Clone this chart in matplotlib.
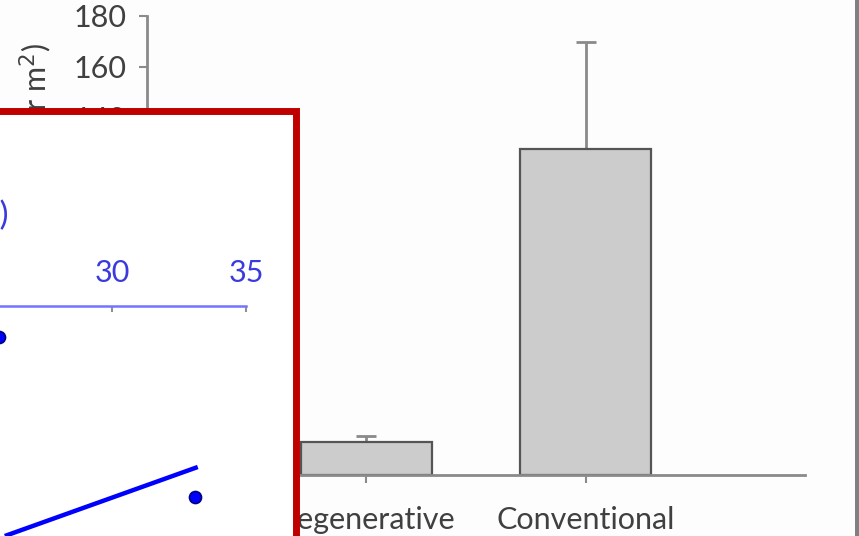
import matplotlib
matplotlib.use("Agg")
import matplotlib.pyplot as plt
from matplotlib.patches import Rectangle

# ── data ─────────────────────────────────────
systems = ["Regenerative", "Conventional"]
pest_mean = [12.8, 127.8]
pest_err = [2.6, 42.0]
y_ticks = [0, 20, 40, 60, 80, 100, 120, 140, 160, 180]

# inset (blue scatter, only partly visible)
inset_x = [25.8, 33.1]
inset_y = [-1.55, -9.55]
fit_x = [26.0, 33.2]
fit_y = [-11.5, -8.05]
inset_ticks = [20, 25, 30, 35]

W, H = 859, 536
plt.rcParams["font.family"] = ["Lato", "DejaVu Sans"]

fig = plt.figure(figsize=(W / 100, H / 100), dpi=100)
fig.patch.set_facecolor("#fdfdfd")


def fx(px):
    return px / W


def fy(py):
    return 1 - py / H


# ── main bar chart ───────────────────────────
ax = fig.add_axes([fx(147), fy(475), fx(805) - fx(147), fy(16) - fy(475)])
ax.set_facecolor("none")
pos = list(range(len(systems)))
ax.bar(pos, pest_mean, width=0.6, color="#cccccc", edgecolor="#555555",
       linewidth=1.6, zorder=2)
ax.errorbar(pos, pest_mean, yerr=[[0] * len(pest_err), pest_err], fmt="none",
            ecolor="#8a8a8a", elinewidth=2, capsize=7, capthick=2, zorder=1)
ax.set_xlim(-1, 2)
ax.set_ylim(0, 180)
ax.set_yticks(y_ticks)
ax.set_xticks(pos)
ax.set_xticklabels(systems)
for side in ("top", "right"):
    ax.spines[side].set_visible(False)
for side in ("left", "bottom"):
    ax.spines[side].set_color("#8a8a8a")
    ax.spines[side].set_linewidth(2)
ax.tick_params(axis="both", colors="#8a8a8a", width=1.5, length=6,
               labelcolor="#404040", labelsize=22)
ax.tick_params(axis="x", pad=16)
ax.tick_params(axis="y", pad=9)

fig.text(fx(36), fy(43), "Pest abundance (per m$^2$)", rotation=90,
         ha="center", va="top", fontsize=22, color="#404040")

# ── red framed inset ─────────────────────────
box = Rectangle((fx(-60), fy(600)), fx(296) - fx(-60), fy(111) - fy(600),
                transform=fig.transFigure, facecolor="white",
                edgecolor="#c00000", linewidth=5, zorder=5)
fig.patches.append(box)

# 26.8 px per unit, 35 at x=246, top axis at y=306, 20 px per unit
px_unit = 26.8
x_lo = 20
left_px = 246 - (35 - x_lo) * px_unit
bx = fig.add_axes([fx(left_px), fy(546), fx(246) - fx(left_px), fy(306) - fy(546)],
                  zorder=6)
bx.set_facecolor("none")
bx.set_xlim(x_lo, 35)
bx.set_ylim(-12, 0)
bx.plot(fit_x, fit_y, color="#0000ff", linewidth=3.2, solid_capstyle="butt",
        zorder=2)
bx.scatter(inset_x, inset_y, s=75, color="#0000ff", edgecolor="#000080",
           linewidth=1.2, zorder=3, clip_on=False)
for side in ("bottom", "left", "right"):
    bx.spines[side].set_visible(False)
bx.spines["top"].set_color("#7373ff")
bx.spines["top"].set_linewidth(1.8)
bx.xaxis.tick_top()
bx.set_xticks(inset_ticks)
bx.set_yticks([])
bx.tick_params(axis="x", direction="in", colors="#909090", length=4, width=1.5,
               labelcolor="#3b3bdd", labelsize=22, pad=14)
fig.text(fx(9), fy(215), "Soil organic matter (%)", ha="right", va="center",
         fontsize=24, color="#3b3bdd", zorder=7)

# screenshot border on the right
fig.patches.append(Rectangle((fx(855), 0), fx(4), 1, transform=fig.transFigure,
                             facecolor="#808080", edgecolor="none", zorder=8))

fig.savefig("out.png", dpi=100, facecolor=fig.get_facecolor())
